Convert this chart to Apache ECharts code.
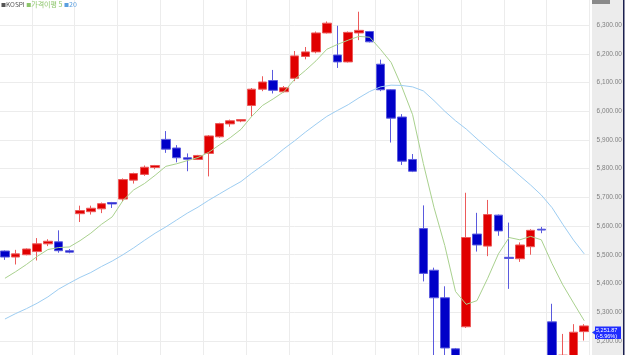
<!DOCTYPE html>
<html><head><meta charset="utf-8">
<script src="https://cdn.jsdelivr.net/npm/echarts@6/dist/echarts.min.js"></script>
<style>html,body{margin:0;padding:0;background:#fff;overflow:hidden;width:627px;height:355px;position:relative;}
#c{position:absolute;left:-1px;top:-7px;width:629px;height:380px;}</style>
</head><body><div id="c"></div>
<script>
const categories = ['1','2','3','4','5','6','7','8','9','10','11','12','13','14','15','16','17','18','19','20','21','22','23','24','25','26','27','28','29','30','31','32','33','34','35','36','37','38','39','40','41','42','43','44','45','46','47','48','49','50','51','52','53','54','55'];
const opens  = [5513,5492,5500,5511,5538,5545,5514,5643,5650,5660,5682,5694,5760,5780,5804,5902,5872,5838,5832,5853,5911,5956,5966,6020,6077,6107,6068,6115,6191,6207,6273,6196,6172,6273,6278,6164,6075,5980,5832,5591,5446,5350,5172,5249,5572,5530,5638,5491,5486,5528,5589,5266,5120,5140,5232];
const closes = [5492,5503,5520,5538,5547,5514,5509,5654,5662,5678,5677,5762,5783,5805,5811,5868,5838,5833,5846,5914,5957,5967,5971,6077,6102,6073,6082,6193,6207,6273,6307,6172,6275,6282,6242,6075,5976,5826,5791,5435,5350,5175,5120,5560,5534,5640,5583,5487,5534,5585,5586,5140,5150,5230,5251.87];
const lows   = [5482,5466,5498,5480,5530,5507,5505,5614,5640,5645,5663,5686,5748,5775,5798,5855,5822,5791,5830,5773,5908,5946,5962,5982,6070,6062,6065,6105,6181,6202,6271,6151,6170,6248,6240,6070,5891,5813,5788,5407,5150,5140,5080,5245,5511,5495,5566,5381,5475,5500,5575,5100,5100,5120,5201];
const highs  = [5515,5517,5522,5558,5554,5585,5520,5671,5671,5682,5684,5766,5786,5811,5813,5931,5882,5853,5848,5917,5960,5971,5973,6081,6122,6144,6088,6210,6224,6278,6313,6298,6278,6347,6280,6180,6077,5990,5851,5672,5455,5390,5175,5716,5646,5691,5640,5612,5543,5589,5597,5329,5224,5258,5258];
const ma5  = [5418,5441,5466,5494,5518,5525,5527,5549,5575,5606,5632,5689,5726,5748,5777,5808,5817,5828,5839,5857,5883,5908,5937,5982,6020,6043,6068,6111,6142,6176,6216,6233,6248,6261,6258,6216,6170,6085,5988,5818,5664,5532,5372,5327,5340,5418,5503,5560,5552,5564,5552,5469,5395,5332,5270];
const ma20 = [5276,5295,5312,5331,5353,5380,5401,5421,5438,5459,5478,5500,5524,5550,5575,5597,5621,5645,5666,5690,5712,5734,5755,5784,5811,5838,5869,5897,5927,5955,5982,6003,6023,6047,6069,6085,6091,6090,6085,6071,6037,6000,5967,5938,5904,5871,5838,5808,5775,5743,5708,5664,5606,5551,5503];
const legendNames = ['KOSPI','가격이평 5','20'];
const lastLabel = ['5,251.87','(-5.96%)'];

// offsets of the chart container relative to the page
const OX = 1, OY = 7;
const candleData = opens.map((o,i)=>[o, closes[i], lows[i], highs[i]]);
const chart = echarts.init(document.getElementById('c'), null, {renderer:'canvas'});
chart.setOption({
  animation:false,
  backgroundColor:'#ffffff',
  grid:{left:0.6, top:0, width:590, height:380, containLabel:false},
  xAxis:{type:'category', data:categories, boundaryGap:true,
    axisLine:{show:false}, axisTick:{show:false}, axisLabel:{show:false},
    splitLine:{show:true, interval:function(idx){return idx%4===3;}, lineStyle:{color:'#ececec', width:1}}},
  yAxis:{type:'value', position:'right', min:5100, max:6400, interval:100,
    axisLine:{show:false}, axisTick:{show:false},
    axisLabel:{margin:7, color:'#808080', fontSize:6.5, fontFamily:'Liberation Sans',
      formatter:function(v){return v.toLocaleString('en-US',{minimumFractionDigits:2,maximumFractionDigits:2});}},
    splitLine:{show:true, lineStyle:{color:'#ececec', width:1}}},
  series:[
    {name:legendNames[0], type:'candlestick', data:candleData, barWidth:9, z:3,
      itemStyle:{color:'#e00000', color0:'#0000c8', borderColor:'#ec5a5a', borderColor0:'#5a5ade', borderWidth:1}},
    {name:legendNames[1], type:'line', data:ma5, symbol:'none', smooth:false, z:4,
      lineStyle:{color:'#a9d18e', width:1}},
    {name:legendNames[2], type:'line', data:ma20, symbol:'none', smooth:false, z:4,
      lineStyle:{color:'#9dcdf2', width:1}}
  ],
  graphic:[
    {type:'rect', z:-10, silent:true, shape:{x:592+OX, y:0, width:31, height:380}, style:{fill:'#ececec'}},
    {type:'rect', z:10, silent:true, shape:{x:623+OX, y:0, width:1.5, height:380}, style:{fill:'#1b1f4f'}},
    {type:'rect', z:10, silent:true, shape:{x:592+OX, y:OY, width:18, height:4}, style:{fill:'#8a8a8a'}},
    {type:'text', z:10, x:1+OX, y:1+OY, style:{
      text:'{a|■}{k|'+legendNames[0]+' }{g|■}{gt|'+legendNames[1]+' }{b|■}{bt|'+legendNames[2]+'}',
      rich:{
        a:{fill:'#555', fontSize:5, fontFamily:'Noto Sans CJK KR'},
        k:{fill:'#555', fontSize:6.5, fontFamily:'Noto Sans CJK KR'},
        g:{fill:'#8cc56a', fontSize:5, fontFamily:'Noto Sans CJK KR'},
        gt:{fill:'#8cc56a', fontSize:7, fontFamily:'Noto Sans CJK KR'},
        b:{fill:'#5a9fe0', fontSize:5, fontFamily:'Noto Sans CJK KR'},
        bt:{fill:'#5a9fe0', fontSize:7, fontFamily:'Noto Sans CJK KR'}
      }}},
    {type:'polygon', z:10, silent:true, shape:{points:[[592+OX,332.5+OY],[595.5+OX,330+OY],[595.5+OX,335+OY]]}, style:{fill:'#1f3cff'}},
    {type:'rect', z:10, silent:true, shape:{x:595+OX, y:326.5+OY, width:26, height:12.5}, style:{fill:'#1f2cff'}},
    {type:'text', z:11, x:596+OX, y:327+OY, style:{text:lastLabel[0]+'\n'+lastLabel[1], fill:'#ffffff', fontSize:5.5, lineHeight:6, fontFamily:'Liberation Sans'}}
  ]
});
</script></body></html>
